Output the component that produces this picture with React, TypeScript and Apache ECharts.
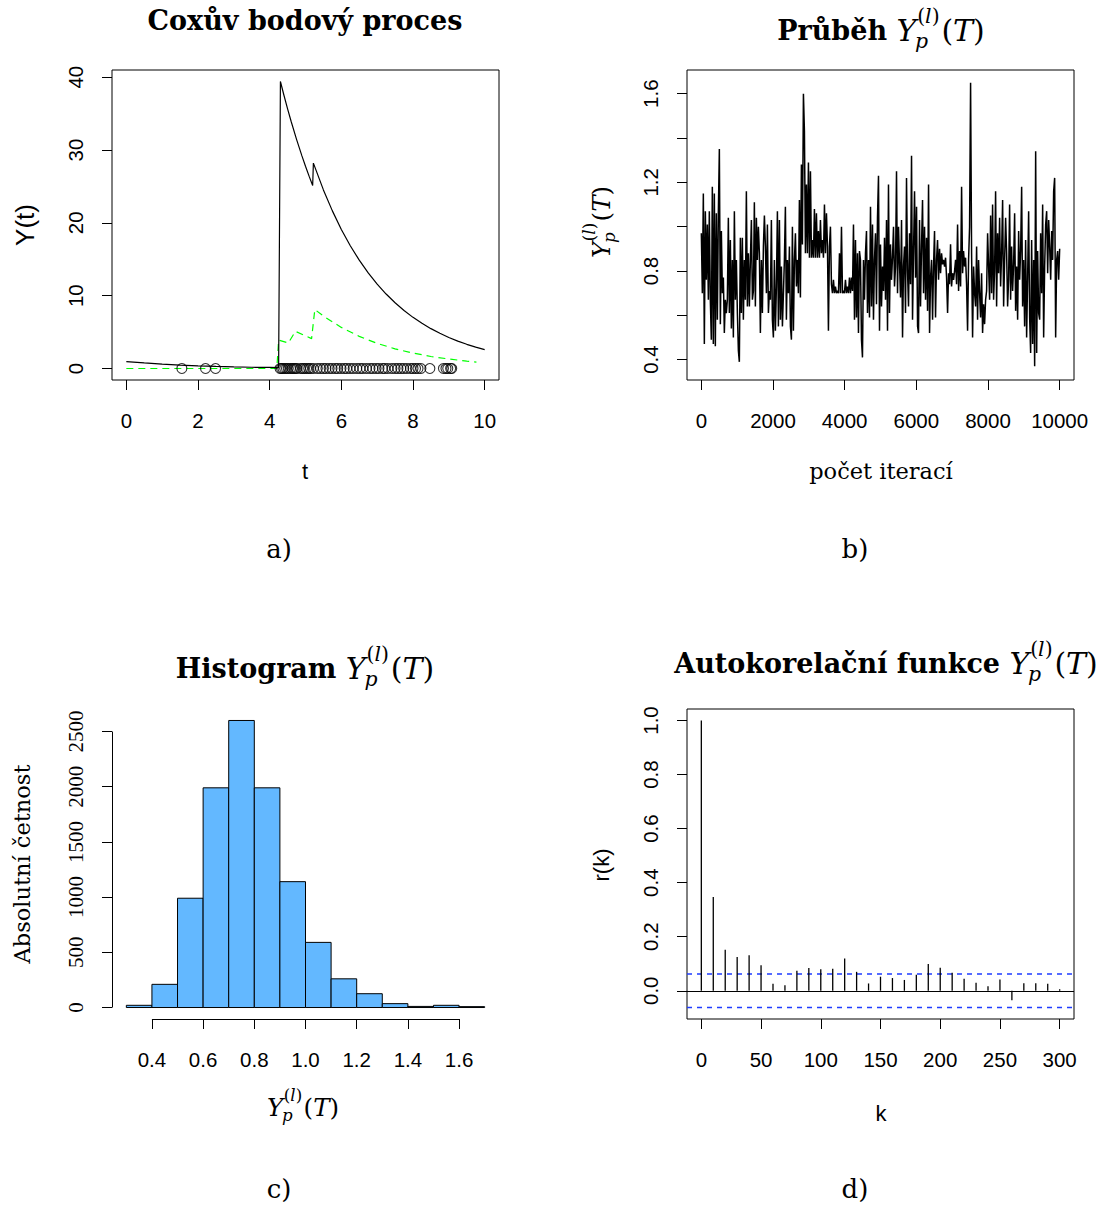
import React, { useEffect, useRef } from 'react';
import * as echarts from 'echarts';

// ---------- Panel a: Cox point process ----------
const COX_T = [0, 0.5, 1, 1.5, 2, 2.5, 3, 3.5, 4, 4.25, 4.3, 4.4, 4.5, 4.6, 4.75, 4.9, 5.0, 5.1, 5.2, 5.22, 5.5, 5.75, 6.0, 6.25, 6.5, 6.75, 7.0, 7.25, 7.5, 7.75, 8.0, 8.25, 8.5, 8.75, 9.0, 9.25, 9.5, 9.75, 10];
const COX_Y = [0.95, 0.76, 0.6, 0.46, 0.36, 0.28, 0.22, 0.17, 0.14, 0.12, 39.4, 37.48, 35.65, 33.91, 31.46, 29.19, 27.77, 26.41, 25.12, 28.2, 24.52, 21.64, 19.09, 16.85, 14.87, 13.12, 11.58, 10.22, 9.02, 7.96, 7.02, 6.2, 5.47, 4.83, 4.26, 3.76, 3.32, 2.93, 2.58];
const LAM_T = [0, 4.2, 4.25, 4.52, 4.72, 5.17, 5.26, 5.5, 6.0, 6.5, 7.0, 7.5, 8.0, 8.5, 9.0, 9.5, 9.77];
const LAM_Y = [0, 0, 3.9, 3.5, 5.1, 4.1, 8.1, 7.2, 5.64, 4.41, 3.45, 2.7, 2.12, 1.65, 1.3, 1.01, 0.87];
const EVENT_T = [1.55, 2.21, 2.49, 4.29, 4.33, 4.37, 4.42, 4.47, 4.52, 4.58, 4.63, 4.67, 4.72, 4.76, 4.86, 4.92, 4.97, 5.03, 5.09, 5.14, 5.22, 5.33, 5.42, 5.5, 5.57, 5.66, 5.74, 5.83, 5.9, 5.99, 6.08, 6.15, 6.24, 6.33, 6.43, 6.52, 6.6, 6.7, 6.8, 6.88, 6.97, 7.05, 7.15, 7.21, 7.3, 7.41, 7.5, 7.58, 7.66, 7.74, 7.83, 7.93, 8.0, 8.07, 8.14, 8.22, 8.47, 8.85, 8.92, 8.97, 9.05, 9.08];
const A_X_TICKS = [0, 2, 4, 6, 8, 10];
const A_Y_TICKS = [0, 10, 20, 30, 40];

// ---------- Panel b: trace of Y_p^(l)(T) ----------
const TRACE_VALUES = [
  0.97, 0.70, 1.15, 0.47, 1.07, 0.76, 1.01, 0.67, 1.07, 0.67,
  0.49, 1.18, 0.47, 1.15, 0.46, 1.06, 0.58, 1.06, 1.35, 0.56,
  0.98, 0.70, 0.77, 0.52, 0.67, 0.61, 0.67, 1.04, 0.61, 0.94,
  0.54, 0.85, 0.50, 1.07, 0.67, 0.85, 0.61, 0.44, 0.39, 0.95,
  0.61, 0.95, 0.58, 0.85, 0.67, 1.16, 0.64, 0.88, 0.64, 0.85,
  1.03, 0.67, 0.71, 1.11, 0.64, 1.04, 0.85, 1.00, 0.88, 0.52,
  0.85, 0.61, 0.91, 1.05, 0.91, 0.70, 1.01, 0.61, 0.71, 0.67,
  1.03, 0.58, 0.50, 0.85, 0.53, 0.73, 1.07, 0.55, 1.03, 0.58,
  0.82, 0.55, 0.70, 0.85, 1.09, 0.58, 0.85, 0.70, 0.91, 0.55,
  0.49, 1.00, 0.53, 0.85, 0.97, 0.73, 0.85, 0.70, 1.12, 0.68,
  1.28, 0.92, 1.60, 1.43, 0.88, 1.19, 0.88, 1.29, 0.86, 1.25,
  0.86, 0.94, 0.86, 1.08, 0.86, 1.06, 0.86, 0.98, 0.86, 1.03,
  0.88, 0.94, 0.86, 1.10, 0.88, 1.06, 0.91, 0.53, 0.91, 1.00,
  0.74, 0.70, 0.76, 0.70, 0.73, 0.70, 0.71, 0.70, 0.88, 0.70,
  1.00, 0.70, 0.71, 0.70, 0.76, 0.70, 0.73, 0.70, 0.77, 0.70,
  0.77, 0.71, 1.01, 0.58, 0.94, 0.59, 0.88, 0.52, 0.89, 0.85,
  0.49, 0.41, 0.85, 0.67, 0.88, 0.98, 0.61, 0.85, 0.59, 1.09,
  0.64, 1.01, 0.58, 0.85, 0.97, 0.65, 1.04, 1.23, 0.53, 0.92,
  0.64, 0.82, 0.71, 0.95, 0.67, 1.03, 0.53, 1.19, 0.61, 0.92,
  0.76, 0.86, 1.00, 0.73, 0.82, 1.25, 0.70, 1.00, 0.83, 0.68,
  1.03, 0.50, 0.82, 0.91, 0.61, 1.22, 0.80, 0.64, 0.97, 0.74,
  1.32, 0.58, 0.89, 1.16, 0.77, 1.09, 0.55, 0.52, 1.03, 0.64,
  0.91, 1.12, 0.70, 1.00, 0.67, 0.95, 0.62, 1.19, 0.52, 0.77,
  0.85, 0.58, 0.82, 0.98, 0.59, 0.85, 0.94, 0.76, 0.90, 0.79,
  0.88, 0.83, 0.85, 0.82, 0.86, 0.77, 0.61, 0.79, 0.74, 0.92,
  0.73, 0.79, 0.76, 0.80, 0.85, 0.74, 1.01, 0.71, 0.89, 0.73,
  1.18, 0.79, 0.89, 0.82, 0.86, 0.74, 0.53, 0.85, 1.00, 1.65,
  0.88, 0.50, 0.82, 0.70, 0.64, 0.91, 0.58, 0.85, 0.70, 0.59,
  0.79, 0.52, 0.65, 0.56, 0.67, 0.71, 0.97, 0.82, 0.67, 1.05,
  0.70, 1.10, 0.67, 0.80, 1.16, 0.64, 0.97, 0.79, 1.04, 0.73,
  0.88, 1.12, 0.64, 0.85, 1.04, 0.88, 0.64, 0.76, 1.10, 0.67,
  0.91, 0.71, 0.83, 1.06, 0.62, 0.82, 0.58, 0.98, 0.76, 0.89,
  1.18, 0.64, 0.85, 0.55, 0.94, 0.50, 0.77, 1.07, 0.59, 0.43,
  0.94, 0.47, 0.85, 0.37, 1.34, 0.43, 0.89, 0.61, 0.58, 0.97,
  0.70, 1.10, 0.50, 0.82, 1.01, 1.07, 0.79, 1.03, 0.91, 0.76,
  0.98, 0.85, 1.16, 1.22, 0.50, 0.85, 0.89, 0.76, 0.90
];
const TRACE_LAST_ITER = 10000;
const B_X_TICKS = [0, 2000, 4000, 6000, 8000, 10000];
const B_Y_TICKS = [0.4, 0.6, 0.8, 1.0, 1.2, 1.4, 1.6];
const B_Y_LABELS = [0.4, 0.8, 1.2, 1.6];

// ---------- Panel c: histogram ----------
const HIST_BREAKS = [0.3, 0.4, 0.5, 0.6, 0.7, 0.8, 0.9, 1.0, 1.1, 1.2, 1.3, 1.4, 1.5, 1.6, 1.7];
const HIST_COUNTS = [20, 210, 990, 1990, 2600, 1990, 1140, 590, 260, 125, 35, 10, 20, 8];
const C_X_TICKS = [0.4, 0.6, 0.8, 1.0, 1.2, 1.4, 1.6];
const C_Y_TICKS = [0, 500, 1000, 1500, 2000, 2500];

// ---------- Panel d: autocorrelation ----------
const ACF_LAGS = [0, 10, 20, 30, 40, 50, 60, 70, 80, 90, 100, 110, 120, 130, 140, 150, 160, 170, 180, 190, 200, 210, 220, 230, 240, 250, 260, 270, 280, 290, 300];
const ACF_VALUES = [1.0, 0.347, 0.152, 0.125, 0.131, 0.094, 0.026, 0.02, 0.074, 0.084, 0.08, 0.081, 0.119, 0.07, 0.027, 0.052, 0.047, 0.04, 0.059, 0.099, 0.085, 0.067, 0.044, 0.03, 0.017, 0.042, -0.035, 0.028, 0.028, 0.026, 0.006];
const ACF_CI = 0.062;
const D_X_TICKS = [0, 50, 100, 150, 200, 250, 300];
const D_Y_TICKS = [0, 0.2, 0.4, 0.6, 0.8, 1.0];

const SANS = 'Liberation Sans';
const SERIF = 'DejaVu Serif';
const SERIF_NUM = 'Liberation Serif';

const measureCtx = typeof document !== 'undefined' ? document.createElement('canvas').getContext('2d') : null;
function tw(text: string, size: number, family: string, style = 'normal', weight = 'normal') {
  if (!measureCtx) return text.length * size * 0.55;
  measureCtx.font = `${style} ${weight} ${size}px "${family}"`;
  return measureCtx.measureText(text).width;
}

type Seg = { text: string; size: number; italic?: boolean; bold?: boolean; x: number; dy: number };
function ypl(fs: number, prefix?: { text: string; size: number; bold: boolean }) {
  const segs: Seg[] = [];
  let x = 0;
  if (prefix) {
    segs.push({ text: prefix.text, size: prefix.size, bold: prefix.bold, x, dy: 0 });
    x += tw(prefix.text, prefix.size, SERIF, 'normal', prefix.bold ? 'bold' : 'normal');
  }
  segs.push({ text: 'Y', size: fs, italic: true, x, dy: 0 });
  x += tw('Y', fs, SERIF, 'italic');
  const ss = fs * 0.68;
  const subX = x - fs * 0.04;
  segs.push({ text: 'p', size: ss, italic: true, x: subX, dy: fs * 0.36 });
  const subEnd = subX + tw('p', ss, SERIF, 'italic');
  let sx = x + fs * 0.03;
  const supDy = -fs * 0.46;
  segs.push({ text: '(', size: ss, x: sx, dy: supDy });
  sx += tw('(', ss, SERIF);
  segs.push({ text: 'l', size: ss, italic: true, x: sx, dy: supDy });
  sx += tw('l', ss, SERIF, 'italic');
  segs.push({ text: ')', size: ss, x: sx, dy: supDy });
  sx += tw(')', ss, SERIF);
  x = Math.max(subEnd, sx) + fs * 0.06;
  segs.push({ text: '(', size: fs, x, dy: 0 });
  x += tw('(', fs, SERIF);
  segs.push({ text: 'T', size: fs, italic: true, x, dy: 0 });
  x += tw('T', fs, SERIF, 'italic');
  segs.push({ text: ')', size: fs, x, dy: 0 });
  x += tw(')', fs, SERIF);
  return { segs, width: x };
}

function segGroup(m: { segs: Seg[]; width: number }, cx: number, cy: number, rotated = false): any {
  const children = m.segs.map((s) => ({
    type: 'text',
    x: s.x,
    y: s.dy,
    style: {
      text: s.text,
      fontSize: s.size,
      fontFamily: SERIF,
      fontStyle: s.italic ? 'italic' : 'normal',
      fontWeight: s.bold ? 'bold' : 'normal',
      fill: '#000',
      align: 'left',
      verticalAlign: 'middle',
    },
  }));
  if (rotated) return { type: 'group', x: cx, y: cy + m.width / 2, rotation: Math.PI / 2, children };
  return { type: 'group', x: cx - m.width / 2, y: cy, children };
}

function plainText(text: string, x: number, y: number, size: number, family: string, opts: any = {}): any {
  return {
    type: 'text',
    x,
    y,
    rotation: opts.rotated ? Math.PI / 2 : 0,
    style: {
      text,
      fontSize: size,
      fontFamily: family,
      fontWeight: opts.bold ? 'bold' : 'normal',
      fill: '#000',
      align: 'center',
      verticalAlign: 'middle',
    },
  };
}

function valAxis(gridIndex: number, min: number, max: number, ticks: number[], labels: number[], o: any) {
  return {
    type: 'value',
    gridIndex,
    min,
    max,
    splitLine: { show: false },
    axisLine: { show: false, onZero: false },
    axisTick: { show: true, length: 10, customValues: ticks, lineStyle: { color: '#000', width: 1 } },
    axisLabel: {
      show: true,
      customValues: labels,
      fontSize: o.fontSize ?? 20.5,
      fontFamily: o.fontFamily ?? SANS,
      color: '#000',
      margin: o.margin,
      rotate: o.rotate ?? 0,
      formatter: o.formatter ?? ((v: number) => String(v)),
    },
  };
}

function buildOption(): any {
  const fix1 = (v: number) => v.toFixed(1);
  const box = { show: true, borderColor: '#000', borderWidth: 1, backgroundColor: 'transparent' };
  const histData = HIST_COUNTS.map((c, i) => [HIST_BREAKS[i], HIST_BREAKS[i + 1], c]);
  const traceData = TRACE_VALUES.map((v, i) => [Math.round((i * TRACE_LAST_ITER) / (TRACE_VALUES.length - 1)), v]);
  const C_XMIN = 0.244;
  const C_YMIN = -104;
  const D_XMIN = -12;
  const D_XMAX = 312;
  const TITLE = 27;
  const TITLE_MATH = 30;
  const LABEL_MATH = 24.5;

  const graphics: any[] = [
    plainText('Coxův bodový proces', 305, 20, TITLE, SERIF, { bold: true }),
    segGroup(ypl(TITLE_MATH, { text: 'Průběh ', size: TITLE, bold: true }), 881, 30),
    segGroup(ypl(TITLE_MATH, { text: 'Histogram ', size: TITLE, bold: true }), 305, 668),
    segGroup(ypl(TITLE_MATH, { text: 'Autokorelační funkce ', size: TITLE, bold: true }), 886, 663),
    plainText('t', 305, 471, 22, SANS),
    plainText('Y(t)', 25, 225, 26, SANS, { rotated: true }),
    plainText('počet iterací', 881, 471, 22.5, SERIF),
    segGroup(ypl(LABEL_MATH), 601, 222, true),
    plainText('Absolutní četnost', 22, 864, 22.5, SERIF, { rotated: true }),
    segGroup(ypl(LABEL_MATH), 303, 1107),
    plainText('k', 881, 1113, 22, SANS),
    plainText('r(k)', 601, 865, 22, SANS, { rotated: true }),
    plainText('a)', 279, 549, 26, SERIF),
    plainText('b)', 855, 549, 26, SERIF),
    plainText('c)', 279, 1189, 26, SERIF),
    plainText('d)', 855, 1189, 26, SERIF),
  ];

  const ciLine = (v: number) => ({
    type: 'line',
    xAxisIndex: 3,
    yAxisIndex: 3,
    data: [[D_XMIN, v], [D_XMAX, v]],
    showSymbol: false,
    silent: true,
    lineStyle: { color: '#1f3dff', width: 1.4, type: [5, 5] },
    z: 1,
  });

  return {
    animation: false,
    backgroundColor: '#fff',
    textStyle: { fontFamily: SANS },
    grid: [
      { left: 112, top: 70, width: 387, height: 310, ...box },
      { left: 687, top: 70, width: 387, height: 310, ...box },
      { left: 112, top: 709, width: 387, height: 310, show: false },
      { left: 687, top: 709, width: 387, height: 310, ...box },
    ],
    xAxis: [
      valAxis(0, -0.4, 10.4, A_X_TICKS, A_X_TICKS, { margin: 30 }),
      valAxis(1, -400, 10400, B_X_TICKS, B_X_TICKS, { margin: 30 }),
      valAxis(2, C_XMIN, 1.756, C_X_TICKS, C_X_TICKS, { margin: 30, formatter: fix1 }),
      valAxis(3, D_XMIN, D_XMAX, D_X_TICKS, D_X_TICKS, { margin: 30 }),
    ],
    yAxis: [
      valAxis(0, -1.58, 40.98, A_Y_TICKS, A_Y_TICKS, { margin: 26, rotate: 90 }),
      valAxis(1, 0.308, 1.707, B_Y_TICKS, B_Y_LABELS, { margin: 26, rotate: 90, formatter: fix1 }),
      valAxis(2, C_YMIN, 2704, C_Y_TICKS, C_Y_TICKS, { margin: 26, rotate: 90, fontFamily: SERIF_NUM, fontSize: 21 }),
      valAxis(3, -0.1045, 1.0425, D_Y_TICKS, D_Y_TICKS, { margin: 26, rotate: 90, formatter: fix1 }),
    ],
    graphic: { elements: graphics },
    series: [
      {
        type: 'line',
        xAxisIndex: 0,
        yAxisIndex: 0,
        data: COX_T.map((t, i) => [t, COX_Y[i]]),
        showSymbol: false,
        lineStyle: { color: '#000', width: 1.2 },
        z: 3,
      },
      {
        type: 'line',
        xAxisIndex: 0,
        yAxisIndex: 0,
        data: LAM_T.map((t, i) => [t, LAM_Y[i]]),
        showSymbol: false,
        lineStyle: { color: '#00ff00', width: 1.2, type: [7, 5] },
        z: 2,
      },
      {
        type: 'scatter',
        xAxisIndex: 0,
        yAxisIndex: 0,
        data: EVENT_T.map((t) => [t, 0]),
        symbol: 'circle',
        symbolSize: 10,
        itemStyle: { color: 'rgba(0,0,0,0)', borderColor: '#000', borderWidth: 1.1 },
        z: 4,
      },
      {
        type: 'line',
        xAxisIndex: 1,
        yAxisIndex: 1,
        data: traceData,
        showSymbol: false,
        lineStyle: { color: '#000', width: 1.5 },
      },
      {
        type: 'custom',
        xAxisIndex: 2,
        yAxisIndex: 2,
        data: histData,
        encode: { x: [0, 1], y: 2 },
        renderItem: (params: any, api: any) => {
          const a = api.coord([api.value(0), api.value(2)]);
          const b = api.coord([api.value(1), 0]);
          return {
            type: 'rect',
            shape: { x: a[0], y: a[1], width: b[0] - a[0], height: b[1] - a[1] },
            style: { fill: '#63B8FF', stroke: '#000', lineWidth: 1 },
          };
        },
        markLine: {
          silent: true,
          symbol: ['none', 'none'],
          label: { show: false },
          lineStyle: { color: '#000', type: 'solid', width: 1 },
          data: [
            [{ coord: [C_X_TICKS[0], C_YMIN] }, { coord: [C_X_TICKS[C_X_TICKS.length - 1], C_YMIN] }],
            [{ coord: [C_XMIN, C_Y_TICKS[0]] }, { coord: [C_XMIN, C_Y_TICKS[C_Y_TICKS.length - 1]] }],
          ],
        },
      },
      {
        type: 'custom',
        xAxisIndex: 3,
        yAxisIndex: 3,
        data: ACF_LAGS.map((k, i) => [k, ACF_VALUES[i]]),
        encode: { x: 0, y: 1 },
        z: 3,
        renderItem: (params: any, api: any) => {
          const p0 = api.coord([api.value(0), 0]);
          const p1 = api.coord([api.value(0), api.value(1)]);
          return {
            type: 'line',
            shape: { x1: p0[0], y1: p0[1], x2: p1[0], y2: p1[1] },
            style: { stroke: '#000', lineWidth: 1.3 },
          };
        },
        markLine: {
          silent: true,
          symbol: ['none', 'none'],
          label: { show: false },
          lineStyle: { color: '#000', type: 'solid', width: 1 },
          data: [{ yAxis: 0 }],
        },
      },
      ciLine(ACF_CI),
      ciLine(-ACF_CI),
    ],
  };
}

export default function App() {
  const ref = useRef<HTMLDivElement>(null);
  useEffect(() => {
    if (!ref.current) return;
    const chart = echarts.init(ref.current, null, { renderer: 'svg' });
    chart.setOption(buildOption());
    return () => chart.dispose();
  }, []);
  return (
    <div
      ref={ref}
      style={{ position: 'absolute', left: 0, top: 0, width: 1098, height: 1207, background: '#fff' }}
    />
  );
}
